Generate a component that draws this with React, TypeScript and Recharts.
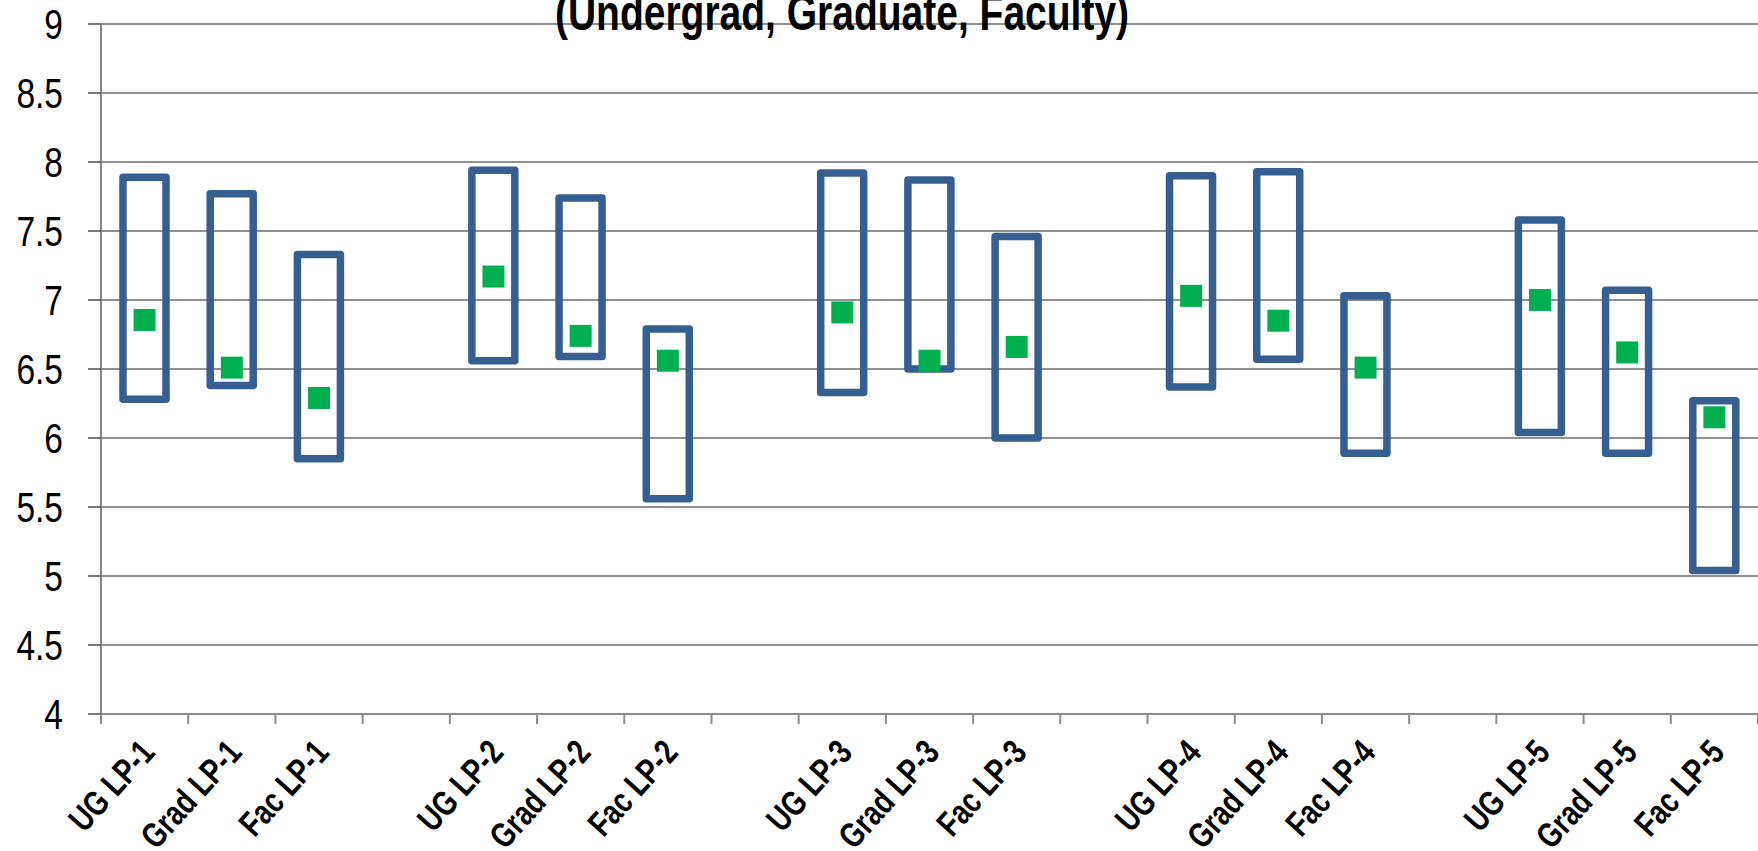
import { ComposedChart, Bar, Line, XAxis, YAxis, CartesianGrid } from 'recharts';

// slot labels: blank entries are the gaps between the LP groups
const labels = [
  'UG LP-1', 'Grad LP-1', 'Fac LP-1', '',
  'UG LP-2', 'Grad LP-2', 'Fac LP-2', '',
  'UG LP-3', 'Grad LP-3', 'Fac LP-3', '',
  'UG LP-4', 'Grad LP-4', 'Fac LP-4', '',
  'UG LP-5', 'Grad LP-5', 'Fac LP-5',
];

const lows = [
  6.28, 6.38, 5.85, null,
  6.56, 6.59, 5.56, null,
  6.33, 6.5, 6.0, null,
  6.37, 6.57, 5.89, null,
  6.04, 5.89, 5.04,
];

const highs = [
  7.89, 7.77, 7.33, null,
  7.94, 7.74, 6.79, null,
  7.92, 7.87, 7.46, null,
  7.9, 7.93, 7.03, null,
  7.58, 7.07, 6.27,
];

const means = [
  6.855, 6.51, 6.29, null,
  7.17, 6.74, 6.56, null,
  6.91, 6.56, 6.66, null,
  7.03, 6.85, 6.51, null,
  7.0, 6.62, 6.15,
];

const yTicks = [4, 4.5, 5, 5.5, 6, 6.5, 7, 7.5, 8, 8.5, 9];

const BLUE = '#365F91';
const GREEN = '#00B050';
const FONT = "'Liberation Sans', Arial, sans-serif";
const SQUEEZE = 0.78; // the original uses a narrow face

const data = labels.map((label, i) => ({
  slot: i,
  label,
  range: lows[i] == null || highs[i] == null ? null : [lows[i], highs[i]],
  mean: means[i],
}));

function RangeBox(props: any) {
  const { x, y, width, height } = props;
  if (!height || height <= 0) return null;
  return (
    <rect
      x={x}
      y={y}
      width={width}
      height={height}
      fill="none"
      stroke={BLUE}
      strokeWidth={7.5}
      strokeLinejoin="round"
    />
  );
}

function SquareDot(props: any) {
  const { cx, cy, index } = props;
  if (cy == null || cx == null) return <g key={`d-${index}`} />;
  return <rect key={`d-${index}`} x={cx - 11} y={cy - 11} width={22} height={22} fill={GREEN} />;
}

function XTick(props: any) {
  const { x, y, payload } = props;
  const half = payload.offset || 0;
  const text = labels[payload.value] || '';
  const last = payload.value === labels.length - 1;
  const ax = x + 3;
  const ay = y + 32;
  return (
    <g>
      <line x1={x - half} x2={x - half} y1={y} y2={y + 10} stroke="#8c8c8c" strokeWidth={2} />
      {last && <line x1={x + half} x2={x + half} y1={y} y2={y + 10} stroke="#8c8c8c" strokeWidth={2} />}
      {text && (
        <text
          x={0}
          y={0}
          textAnchor="end"
          dominantBaseline="central"
          transform={`translate(${ax}, ${ay}) rotate(-48) scale(${SQUEEZE}, 1)`}
          fontFamily={FONT}
          fontWeight="bold"
          fontSize={35}
          fill="#000"
        >
          {text}
        </text>
      )}
    </g>
  );
}

function YTick(props: any) {
  const { x, y, payload } = props;
  return (
    <text
      x={0}
      y={0}
      transform={`translate(${x}, ${y}) scale(${SQUEEZE}, 1)`}
      textAnchor="end"
      dominantBaseline="central"
      fontFamily={FONT}
      fontSize={43}
      fill="#000"
    >
      {payload.value}
    </text>
  );
}

export default function App() {
  return (
    <div style={{ position: 'fixed', left: 0, top: 0, width: 1758, height: 851, background: '#fff', overflow: 'hidden' }}>
      <ComposedChart
        width={1758}
        height={851}
        data={data}
        margin={{ top: 24, right: 0, bottom: 0, left: 0 }}
      >
        <CartesianGrid vertical={false} stroke="#222" strokeWidth={1.2} />
        <XAxis
          dataKey="slot"
          type="category"
          height={137}
          tickLine={false}
          tickSize={0}
          tickMargin={0}
          interval={0}
          axisLine={{ stroke: '#8c8c8c', strokeWidth: 2 }}
          tick={<XTick />}
        />
        <YAxis
          type="number"
          domain={[4, 9]}
          ticks={yTicks}
          width={101}
          tickSize={13}
          tickMargin={25}
          axisLine={{ stroke: '#868686', strokeWidth: 2 }}
          tickLine={{ stroke: '#222', strokeWidth: 1.2 }}
          tick={<YTick />}
        />
        <Line
          dataKey="mean"
          stroke="none"
          dot={SquareDot}
          activeDot={false}
          connectNulls={false}
          isAnimationActive={false}
        />
        <Bar dataKey="range" barSize={43} shape={<RangeBox />} isAnimationActive={false} />
      </ComposedChart>
      <svg width={1758} height={60} style={{ position: 'absolute', left: 0, top: 0 }}>
        <text
          x={0}
          y={0}
          transform={`translate(842, 30) scale(${SQUEEZE}, 1)`}
          textAnchor="middle"
          fontFamily={FONT}
          fontWeight="bold"
          fontSize={50}
          fill="#000"
        >
          (Undergrad, Graduate, Faculty)
        </text>
      </svg>
    </div>
  );
}
